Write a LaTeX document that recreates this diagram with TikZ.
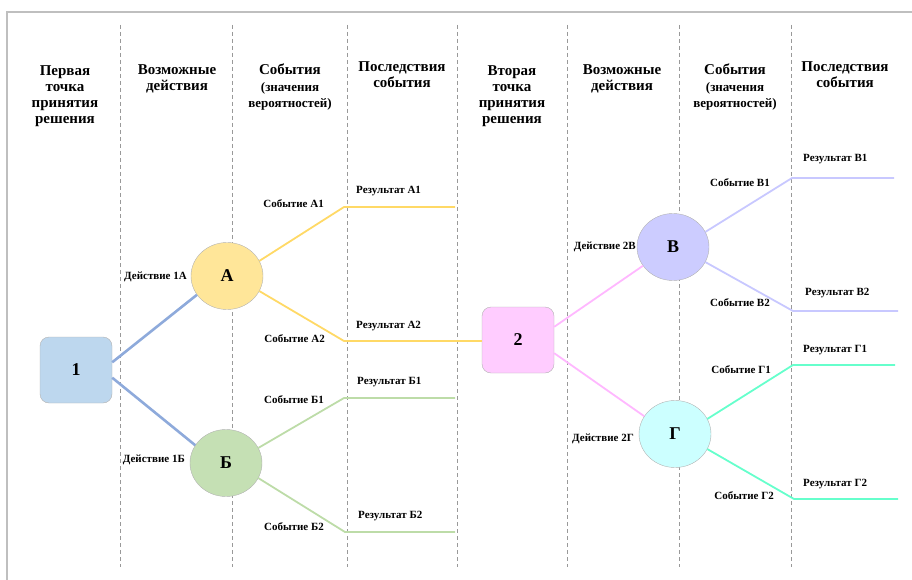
\documentclass[tikz,border=0pt]{standalone}
\usepackage{fontspec}
\setmainfont{Liberation Serif}
\usetikzlibrary{shapes.geometric}
\definecolor{blueA}{HTML}{8EAADB}
\definecolor{yellowA}{HTML}{FFD966}
\definecolor{greenB}{HTML}{BDDCA8}
\definecolor{pinkC}{HTML}{FFB8FF}
\definecolor{lilacV}{HTML}{C8C8FF}
\definecolor{aquaG}{HTML}{66FFCC}
\newcommand{\subhead}[1]{{\fontsize{13}{16}\selectfont #1}}
\begin{document}
\begin{tikzpicture}[x=1pt,y=-1pt,
			every node/.style={font=\bfseries\fontsize{11}{12}\selectfont,inner sep=0pt},
			head/.style={anchor=north,align=center,font=\bfseries\fontsize{15}{16.2}\selectfont},
			point/.style={draw=black!30,rounded corners=9pt,minimum width=72pt,minimum height=66pt,font=\bfseries\fontsize{18}{18}\selectfont},
			chance/.style={ellipse,draw=black!30,minimum width=72pt,minimum height=67pt,font=\bfseries\fontsize{18}{18}\selectfont},
			branch/.style={line width=1.8pt},
			sep/.style={black!40,dash pattern=on 4pt off 3pt,line width=0.7pt}]
			\useasboundingbox (0,0) rectangle (912,580);
			\draw[black!25,line width=1.5pt] (912,12) -- (7,12) -- (7,580);
			\foreach \x in {120,232,347,457,567,679,791}
				\draw[sep] (\x,25) -- (\x,567);
			\node[head] (h1) at (65,65) {Первая\\точка\\принятия\\решения};
			\node[head] (h2) at (177,64) {Возможные\\действия};
			\node[head] (h3) at (290,64) {События\\\subhead{(значения}\\\subhead{вероятностей)}};
			\node[head] (h4) at (402,61) {Последствия\\события};
			\node[head] (h5) at (512,65) {Вторая\\точка\\принятия\\решения};
			\node[head] (h6) at (622,64) {Возможные\\действия};
			\node[head] (h7) at (735,64) {События\\\subhead{(значения}\\\subhead{вероятностей)}};
			\node[head] (h8) at (845,61) {Последствия\\события};
			\node[point,fill={rgb,255:red,189;green,215;blue,238}] (p1) at (76,370) {1};
			\node[point,fill={rgb,255:red,255;green,204;blue,255}] (p2) at (518,340) {2};
			\node[chance,fill={rgb,255:red,255;green,230;blue,153}] (A) at (227,276) {А};
			\node[chance,fill={rgb,255:red,197;green,224;blue,180}] (B) at (226,463) {Б};
			\node[chance,fill={rgb,255:red,204;green,204;blue,255}] (V) at (673,247) {В};
			\node[chance,fill={rgb,255:red,204;green,255;blue,255}] (G) at (675,434) {Г};
			\coordinate (a1) at (344,207); \coordinate (a1e) at (455,207);
			\coordinate (a2) at (344,341);
			\coordinate (b1) at (344,398); \coordinate (b1e) at (455,398);
			\coordinate (b2) at (345,532); \coordinate (b2e) at (455,532);
			\coordinate (v1) at (792,178); \coordinate (v1e) at (894,178);
			\coordinate (v2) at (793,311); \coordinate (v2e) at (898,311);
			\coordinate (g1) at (793,365); \coordinate (g1e) at (895,365);
			\coordinate (g2) at (794,499); \coordinate (g2e) at (898,499);
			\draw[branch,blueA,line width=2.6pt] (p1.12) -- (A.212);
			\draw[branch,blueA,line width=2.6pt] (p1.-12) -- (B.150);
			\draw[branch,yellowA] (A.25) -- (a1) -- (a1e);
			\draw[branch,yellowA] (A.-25) -- (a2) -- (a2 -| p2.west);
			\draw[branch,greenB] (B.25) -- (b1) -- (b1e);
			\draw[branch,greenB] (B.-25) -- (b2) -- (b2e);
			\draw[branch,pinkC] (p2.20) -- (V.212);
			\draw[branch,pinkC] (p2.-20) -- (G.150);
			\draw[branch,lilacV] (V.25) -- (v1) -- (v1e);
			\draw[branch,lilacV] (V.-25) -- (v2) -- (v2e);
			\draw[branch,aquaG] (G.25) -- (g1) -- (g1e);
			\draw[branch,aquaG] (G.-25) -- (g2) -- (g2e);
			\node[anchor=east] (d1a) at (187,277) {Действие 1А};
			\node[anchor=east] (d1b) at (185,460) {Действие 1Б};
			\node[anchor=east] (d2v) at (636,247) {Действие 2В};
			\node[anchor=east] (d2g) at (634,439) {Действие 2Г};
			\node[anchor=east] (sa1) at (324,204) {Событие А1};
			\node[anchor=east] (sa2) at (325,339) {Событие А2};
			\node[anchor=east] (sb1) at (324,400) {Событие Б1};
			\node[anchor=east] (sb2) at (324,527) {Событие Б2};
			\node[anchor=east] (sv1) at (770,183) {Событие В1};
			\node[anchor=east] (sv2) at (770,303) {Событие В2};
			\node[anchor=east] (sg1) at (771,370) {Событие Г1};
			\node[anchor=east] (sg2) at (774,496) {Событие Г2};
			\node[anchor=west] (ra1) at (356,191) {Результат А1};
			\node[anchor=west] (ra2) at (356,326) {Результат А2};
			\node[anchor=west] (rb1) at (357,382) {Результат Б1};
			\node[anchor=west] (rb2) at (358,516) {Результат Б2};
			\node[anchor=west] (rv1) at (803,159) {Результат В1};
			\node[anchor=west] (rv2) at (805,293) {Результат В2};
			\node[anchor=west] (rg1) at (803,350) {Результат Г1};
			\node[anchor=west] (rg2) at (803,484) {Результат Г2};
		\end{tikzpicture}
\end{document}
